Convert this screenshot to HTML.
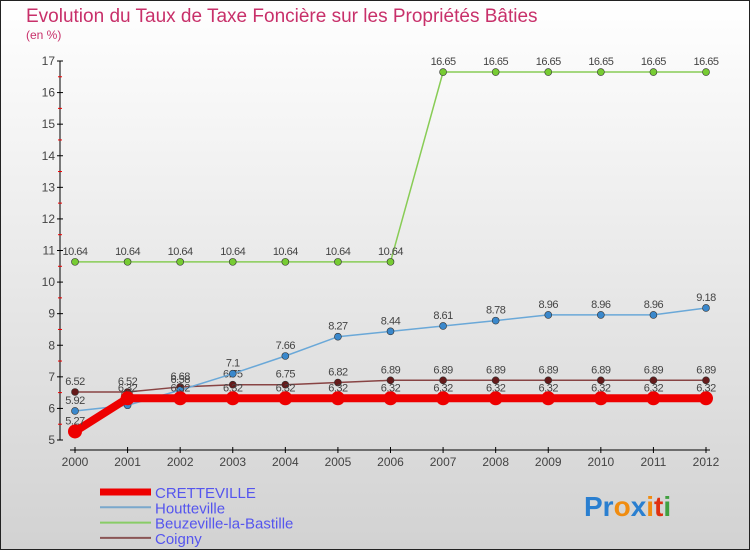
<!DOCTYPE html>
<html><head><meta charset="utf-8"><style>
body{margin:0;width:750px;height:550px;overflow:hidden;font-family:"Liberation Sans",sans-serif}
</style></head><body>
<svg id="c" width="750" height="550" xmlns="http://www.w3.org/2000/svg">
<defs><linearGradient id="bg" x1="0" y1="0" x2="0" y2="1"><stop offset="0" stop-color="#ffffff"/><stop offset="1" stop-color="#d2d2d2"/></linearGradient></defs>
<rect x="0.5" y="0.5" width="749" height="549" fill="url(#bg)" stroke="#222"/>
<text x="26" y="22" font-size="19" fill="#c8306a">Evolution du Taux de Taxe Foncière sur les Propriétés Bâties</text>
<text x="26" y="39" font-size="12" fill="#c8306a">(en %)</text>
<g id="axes"></g><g id="series"></g><g id="legend"></g>
<text x="584" y="516" font-size="28" font-weight="bold"><tspan fill="#2a7fd0">Pr</tspan><tspan fill="#f08c10">o</tspan><tspan fill="#2a7fd0">x</tspan><tspan fill="#f08c10">i</tspan><tspan fill="#e03010">t</tspan><tspan fill="#40a040">i</tspan></text>
</svg>
<script>
const years=[2000,2001,2002,2003,2004,2005,2006,2007,2008,2009,2010,2011,2012];
const yTicks=[5,6,7,8,9,10,11,12,13,14,15,16,17];
const cretteville=[5.27,6.32,6.32,6.32,6.32,6.32,6.32,6.32,6.32,6.32,6.32,6.32,6.32];
const houtteville=[5.92,6.1,6.58,7.1,7.66,8.27,8.44,8.61,8.78,8.96,8.96,8.96,9.18];
const beuzeville=[10.64,10.64,10.64,10.64,10.64,10.64,10.64,16.65,16.65,16.65,16.65,16.65,16.65];
const coigny=[6.52,6.52,6.68,6.75,6.75,6.82,6.89,6.89,6.89,6.89,6.89,6.89,6.89];
const NS="http://www.w3.org/2000/svg";
const xS=i=>75+i*(706-75)/(years.length-1);
const yS=v=>440-(v-5)*(440-61)/12;
function mk(t,a,p){const e=document.createElementNS(NS,t);for(const k in a)e.setAttribute(k,a[k]);p.appendChild(e);return e;}
const ax=document.getElementById('axes');
let l=mk('line',{x1:60,y1:61,x2:60,y2:440,stroke:'#000'},ax);


l=mk('line',{x1:70,y1:450,x2:710,y2:450,stroke:'#000'},ax);


yTicks.forEach(v=>{const y=yS(v);
 mk('line',{x1:57,y1:y,x2:63,y2:y,stroke:'#000'},ax);
 if(v<17)mk('line',{x1:58,y1:y-15.8,x2:62,y2:y-15.8,stroke:'#e00'},ax);
 const t=mk('text',{x:55,y:y+4,'font-size':12,fill:'#444','text-anchor':'end'},ax);t.textContent=v;
 
 });
years.forEach((yr,i)=>{const x=xS(i);
 mk('line',{x1:x,y1:447,x2:x,y2:453,stroke:'#000'},ax);
 const t=mk('text',{x:x,y:466,'font-size':12,fill:'#444','text-anchor':'middle'},ax);t.textContent=yr;
 
 });
const sg=document.getElementById('series');
const series=[
 {n:'beuzeville',d:beuzeville,c:'#88cc55',f:'#77cc33',w:1.5,r:3.5,lab:true},
 {n:'coigny',d:coigny,c:'#884444',f:'#661a1a',w:1.5,r:3.5,lab:true},
 {n:'houtteville',d:houtteville,c:'#6aa8d8',f:'#3a88cc',w:1.5,r:3.5,lab:true},
 {n:'cretteville',d:cretteville,c:'#ee0000',f:'#ee0000',w:8,r:7,lab:true}];
series.forEach(s=>{
 const p=mk('polyline',{points:s.d.map((v,i)=>xS(i)+','+yS(v)).join(' '),fill:'none',stroke:s.c,'stroke-width':s.w},sg);
 
 
 s.d.forEach((v,i)=>{const c=mk('circle',{cx:xS(i),cy:yS(v),r:s.r,fill:s.f,stroke:'#333','stroke-width':s.w>2?0:0.6},sg);
  
  
  const t=mk('text',{x:xS(i),y:yS(v)-7,'font-size':11,fill:'#444','text-anchor':'middle','letter-spacing':'-0.5'},sg);t.textContent=v;
  
  });
});
const lg=document.getElementById('legend');
const leg=[['CRETTEVILLE','#ee0000',7],['Houtteville','#7aa8cc',2],['Beuzeville-la-Bastille','#88cc66',2],['Coigny','#8a5555',2]];
leg.forEach((e,i)=>{const y=492+i*15.3;
 const ln=mk('line',{x1:100,y1:y,x2:151,y2:y,stroke:e[1],'stroke-width':e[2]},lg);
 
 
 const t=mk('text',{x:155,y:y+6,'font-size':15,fill:'#5555ee'},lg);t.textContent=e[0];
 
 });
</script>
</body></html>
